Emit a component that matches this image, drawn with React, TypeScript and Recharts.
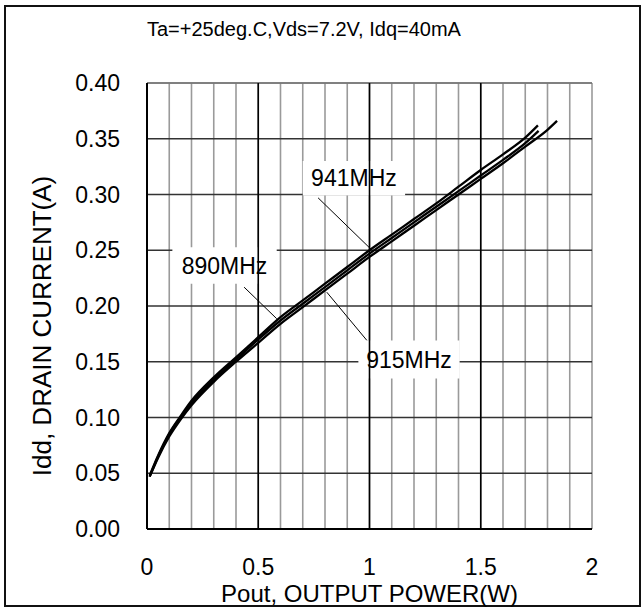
import {
  LineChart,
  Line,
  XAxis,
  YAxis,
  CartesianGrid,
  ReferenceLine,
  ReferenceArea,
} from 'recharts';

const FONT = '"Liberation Sans", Arial, Helvetica, sans-serif';

// Pout (W) / Idd (A)
const pout941 = [0.012, 0.05, 0.1, 0.15, 0.2, 0.3, 0.4, 0.5, 0.6, 0.7, 0.8, 0.9, 1.0, 1.1, 1.2, 1.3, 1.4, 1.5, 1.6, 1.7, 1.757];
const idd941 = [0.048, 0.066, 0.086, 0.101, 0.115, 0.136, 0.154, 0.172, 0.19, 0.205, 0.22, 0.235, 0.25, 0.264, 0.278, 0.292, 0.307, 0.322, 0.336, 0.351, 0.362];

const pout890 = [0.012, 0.05, 0.1, 0.15, 0.2, 0.3, 0.4, 0.5, 0.6, 0.7, 0.8, 0.9, 1.0, 1.1, 1.2, 1.3, 1.4, 1.5, 1.6, 1.7, 1.76];
const idd890 = [0.047, 0.065, 0.085, 0.1, 0.113, 0.134, 0.152, 0.17, 0.187, 0.202, 0.217, 0.232, 0.247, 0.261, 0.275, 0.289, 0.303, 0.317, 0.331, 0.346, 0.357];

const pout915 = [0.012, 0.05, 0.1, 0.15, 0.2, 0.3, 0.4, 0.5, 0.6, 0.7, 0.8, 0.9, 1.0, 1.1, 1.2, 1.3, 1.4, 1.5, 1.6, 1.7, 1.8, 1.843];
const idd915 = [0.047, 0.064, 0.083, 0.098, 0.111, 0.132, 0.15, 0.167, 0.184, 0.199, 0.214, 0.229, 0.244, 0.258, 0.272, 0.286, 0.3, 0.314, 0.328, 0.343, 0.358, 0.366];

const xTicks = [0, 0.1, 0.2, 0.3, 0.4, 0.5, 0.6, 0.7, 0.8, 0.9, 1.0, 1.1, 1.2, 1.3, 1.4, 1.5, 1.6, 1.7, 1.8, 1.9, 2.0];
const xMajor = [0.5, 1.0, 1.5];
const xLabelled = [0, 0.5, 1, 1.5, 2];
const yTicks = [0, 0.05, 0.1, 0.15, 0.2, 0.25, 0.3, 0.35, 0.4];

const title = 'Ta=+25deg.C,Vds=7.2V, Idq=40mA';

// frequency callouts, in data units: white box + leader line
const callouts = [
  { text: '941MHz', x1: 0.7, x2: 1.16, y1: 0.299, y2: 0.33, from: { x: 0.769, y: 0.297 }, to: { x: 1.008, y: 0.2507 } },
  { text: '890MHz', x1: 0.114, x2: 0.583, y1: 0.22, y2: 0.2527, from: { x: 0.4365, y: 0.2169 }, to: { x: 0.583, y: 0.1886 } },
  { text: '915MHz', x1: 0.95, x2: 1.405, y1: 0.135, y2: 0.169, from: { x: 0.808, y: 0.2124 }, to: { x: 0.988, y: 0.1692 } },
];

const toPoints = (xs: number[], ys: number[]) => xs.map((x, i) => ({ x, y: ys[i] }));

const series = [
  { name: '941MHz', data: toPoints(pout941, idd941) },
  { name: '890MHz', data: toPoints(pout890, idd890) },
  { name: '915MHz', data: toPoints(pout915, idd915) },
];

const fmtX = (v: number) => {
  const hit = xLabelled.find((t) => Math.abs(t - v) < 1e-6);
  return hit === undefined ? '' : String(hit);
};

export default function App() {
  return (
    <div style={{ position: 'absolute', left: 0, top: 0, width: 644, height: 610, background: '#fff', fontFamily: FONT }}>
      <div
        style={{
          position: 'absolute',
          left: 4,
          top: 5,
          width: 637,
          height: 602,
          border: '2px solid #111',
          boxSizing: 'border-box',
        }}
      />
      <div
        style={{
          position: 'absolute',
          left: 147,
          top: 17,
          fontSize: 20,
          lineHeight: '24px',
          color: '#000',
          whiteSpace: 'nowrap',
        }}
      >
        {title}
      </div>
      <div style={{ position: 'absolute', left: 0, top: 0 }}>
        <LineChart
          width={644}
          height={610}
          margin={{ top: 83, right: 52, bottom: 1, left: 0 }}
          style={{ fontFamily: FONT }}
        >
          <CartesianGrid horizontal={false} stroke="#9a9a9a" strokeWidth={1.6} />
          <CartesianGrid vertical={false} stroke="#333" strokeWidth={1.6} />
          <XAxis
            type="number"
            dataKey="x"
            domain={[0, 2]}
            ticks={xTicks}
            tickFormatter={fmtX}
            interval={0}
            height={80}
            tickLine={false}
            tickSize={0}
            tickMargin={30}
            axisLine={{ stroke: '#000', strokeWidth: 2 }}
            tick={{ fill: '#000', fontSize: 23, fontFamily: FONT }}
            label={{
              value: 'Pout, OUTPUT POWER(W)',
              position: 'insideBottom',
              offset: 7,
              fill: '#000',
              fontSize: 24,
              fontFamily: FONT,
            }}
          />
          <YAxis
            type="number"
            dataKey="y"
            domain={[0, 0.4]}
            ticks={yTicks}
            interval={0}
            width={147}
            tickLine={false}
            tickSize={0}
            tickMargin={27}
            tickFormatter={(v: number) => v.toFixed(2)}
            axisLine={{ stroke: '#000', strokeWidth: 2 }}
            tick={{ fill: '#000', fontSize: 23, fontFamily: FONT }}
            label={{
              position: 'center',
              content: (props: any) => {
                const vb = props.viewBox || {};
                const cx = (vb.x || 0) + 42;
                const cy = (vb.y || 0) + (vb.height || 0) / 2 + 20;
                return (
                  <text
                    x={cx}
                    y={cy}
                    transform={`rotate(-90, ${cx}, ${cy})`}
                    textAnchor="middle"
                    dominantBaseline="central"
                    fill="#000"
                    fontSize={26}
                    fontFamily={FONT}
                  >
                    Idd, DRAIN CURRENT(A)
                  </text>
                );
              },
            }}
          />
          <ReferenceLine y={0.4} stroke="#8a8a8a" strokeWidth={1.6} />
          {xMajor.map((v) => (
            <ReferenceLine key={v} x={v} stroke="#000" strokeWidth={1.6} />
          ))}
          {callouts.map((c) => (
            <ReferenceArea
              key={c.text}
              x1={c.x1}
              x2={c.x2}
              y1={c.y1}
              y2={c.y2}
              fill="#fff"
              fillOpacity={1}
              stroke="none"
              label={{ value: c.text, position: 'center', fill: '#000', fontSize: 23, fontFamily: FONT }}
            />
          ))}
          {callouts.map((c) => (
            <ReferenceLine key={c.text + '-lead'} segment={[c.from, c.to]} stroke="#000" strokeWidth={1} />
          ))}
          {series.map((s) => (
            <Line
              key={s.name}
              data={s.data}
              dataKey="y"
              type="monotone"
              stroke="#000"
              strokeWidth={2.3}
              dot={false}
              isAnimationActive={false}
            />
          ))}
        </LineChart>
      </div>
    </div>
  );
}
